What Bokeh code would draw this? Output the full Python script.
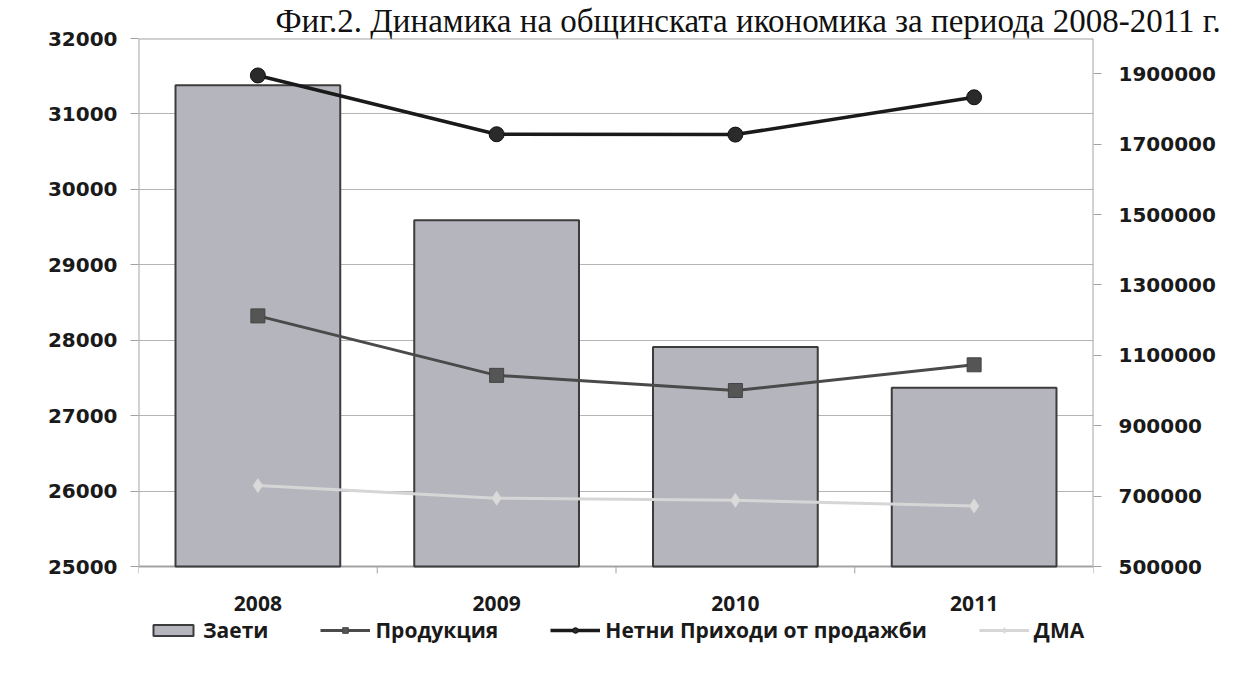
from bokeh.plotting import figure
from bokeh.models import (Range1d, LinearAxis, FixedTicker, Legend, LegendItem,
                          NumeralTickFormatter)
from bokeh.core.properties import value
from bokeh.embed import file_html
from bokeh.resources import INLINE

# ---- data ----
categories = ["2008", "2009", "2010", "2011"]
zaeti = [31380, 29590, 27910, 27370]                 # left axis
produktsia = [1212000, 1043000, 1000000, 1073000]    # right axis
netni = [1895000, 1728000, 1727000, 1833000]         # right axis
dma = [730000, 694000, 688000, 672000]               # right axis
left_ticks = [25000, 26000, 27000, 28000, 29000, 30000, 31000, 32000]
right_ticks = [500000, 700000, 900000, 1100000, 1300000, 1500000, 1700000, 1900000]
right_max = 2000000
series_names = ["Заети", "Продукция", "Нетни Приходи от продажби", "ДМА"]
title_text = "Фиг.2. Динамика на общинската икономика за периода 2008-2011 г."

xs = [i + 0.5 for i in range(len(categories))]
bounds = list(range(len(categories) + 1))

AX_FONT = "DejaVu Sans"
CAT_FONT = "Open Sans"
GRAY = "#a3a3a3"

# layout (pixels): plot area height, and extra room below it (labels + legend)
PLOT_H = 528
EXTRA = 84
span_l = left_ticks[-1] - left_ticks[0]
span_r = right_max - right_ticks[0]
y_lo = left_ticks[0] - span_l * EXTRA / PLOT_H
r_lo = right_ticks[0] - span_r * EXTRA / PLOT_H
px_l = span_l / PLOT_H          # left-axis units per pixel

p = figure(width=1221, height=672, output_backend="svg", toolbar_location=None,
           x_range=Range1d(0, len(categories)),
           y_range=Range1d(y_lo, left_ticks[-1]),
           min_border_left=138, min_border_right=128, min_border_top=38,
           min_border_bottom=22, background_fill_color="white",
           border_fill_color="white")
p.extra_y_ranges = {"right": Range1d(r_lo, right_max)}
p.outline_line_color = None

# title
p.title.text = title_text
p.title.text_font = "Liberation Serif"
p.title.text_font_size = "33px"
p.title.text_font_style = "normal"
p.title.text_color = "#111111"
p.title.align = "left"
p.title.offset = 137
p.title.standoff = 0

# grid
p.xgrid.visible = False
p.ygrid.grid_line_color = "#b4b4b4"
p.ygrid.grid_line_width = 1
p.ygrid.ticker = FixedTicker(ticks=left_ticks)

# left axis (line drawn by the plot-area border below)
la = p.yaxis[0]
la.ticker = FixedTicker(ticks=left_ticks)
la.formatter = NumeralTickFormatter(format="0")
la.axis_line_color = None
la.major_tick_line_color = GRAY
la.major_tick_out = 8
la.major_tick_in = 0
la.minor_tick_line_color = None
la.major_label_text_font = AX_FONT
la.major_label_text_font_style = "bold"
la.major_label_text_font_size = "20px"
la.major_label_text_color = "#1a1a1a"
la.major_label_standoff = 13

# right axis
ra = LinearAxis(y_range_name="right", ticker=FixedTicker(ticks=right_ticks),
                formatter=NumeralTickFormatter(format="0"))
ra.axis_line_color = None
ra.major_tick_line_color = GRAY
ra.major_tick_out = 8
ra.major_tick_in = 0
ra.minor_tick_line_color = None
ra.major_label_text_font = AX_FONT
ra.major_label_text_font_style = "bold"
ra.major_label_text_font_size = "20px"
ra.major_label_text_color = "#1a1a1a"
ra.major_label_standoff = 17
p.add_layout(ra, "right")

p.xaxis.visible = False

# plot-area border (category axis line at the bottom)
p.quad(left=[bounds[0]], right=[bounds[-1]], bottom=[left_ticks[0]], top=[left_ticks[-1]],
       fill_color=None, line_color=GRAY, line_width=2)
# category tick marks between categories
p.segment(x0=bounds, x1=bounds, y0=[left_ticks[0]] * len(bounds),
          y1=[left_ticks[0] - 7 * px_l] * len(bounds), line_color=GRAY, line_width=1)
# category labels
p.text(x=xs, y=[left_ticks[0] - 37 * px_l] * len(xs), text=categories,
       text_font=value(CAT_FONT), text_font_style="bold", text_font_size="21px",
       text_color="#1a1a1a", text_align="center", text_baseline="middle")

# bars and lines
bars = p.vbar(x=xs, top=zaeti, bottom=left_ticks[0], width=0.69,
              fill_color="#b5b5bd", line_color="#3c3c3c", line_width=2)
l_dma = p.line(xs, dma, y_range_name="right", line_color="#d6d6d6", line_width=3)
m_dma = p.scatter(xs, dma, y_range_name="right", marker="diamond", size=14,
                  fill_color="#dadada", line_color="#d6d6d6")
l_prod = p.line(xs, produktsia, y_range_name="right", line_color="#4a4a4a", line_width=3)
m_prod = p.scatter(xs, produktsia, y_range_name="right", marker="square", size=14,
                   fill_color="#555555", line_color="#444444")
l_net = p.line(xs, netni, y_range_name="right", line_color="#1a1a1a", line_width=3.5)
m_net = p.scatter(xs, netni, y_range_name="right", marker="circle", size=15,
                  fill_color="#2a2a2a", line_color="#111111")

legend = Legend(items=[
    LegendItem(label=series_names[0], renderers=[bars]),
    LegendItem(label=series_names[1], renderers=[l_prod, m_prod]),
    LegendItem(label=series_names[2], renderers=[l_net, m_net]),
    LegendItem(label=series_names[3], renderers=[l_dma, m_dma]),
], orientation="horizontal", location=(10, 6))
legend.label_text_font = CAT_FONT
legend.label_text_font_style = "bold"
legend.label_text_font_size = "21px"
legend.label_text_color = "#1a1a1a"
legend.glyph_width = 50
legend.glyph_height = 14
legend.label_standoff = 5
legend.spacing = 52
legend.padding = 0
legend.margin = 0
legend.border_line_color = None
legend.background_fill_alpha = 0
p.add_layout(legend)

open("out.html", "w").write(file_html(p, INLINE))
